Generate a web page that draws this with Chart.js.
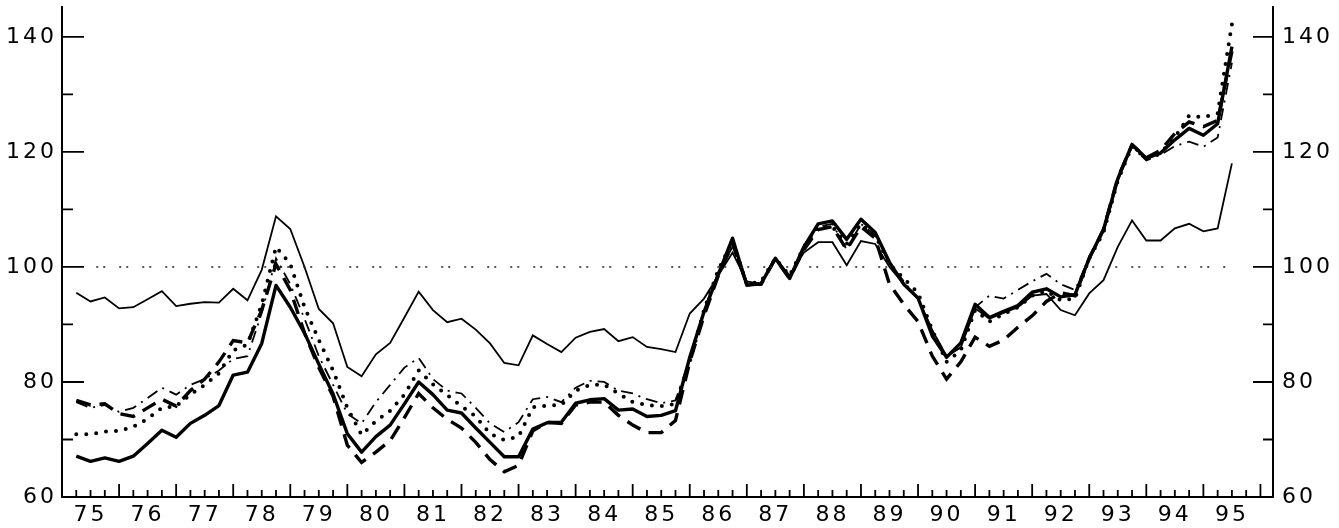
<!DOCTYPE html>
<html>
<head>
<meta charset="utf-8">
<script src="https://cdn.jsdelivr.net/npm/chart.js@4.4.0/dist/chart.umd.min.js"></script>
<style>
  html, body { margin: 0; padding: 0; background: #fff; }
  #wrap { width: 1339px; height: 528px; position: relative; }
</style>
</head>
<body>
<div id="wrap"><canvas id="indexChart"></canvas></div>
<script>
// years on the axis, data are quarterly (plotted at end of quarter)
const years = [1975, 1976, 1977, 1978, 1979, 1980, 1981, 1982, 1983, 1984, 1985,
  1986, 1987, 1988, 1989, 1990, 1991, 1992, 1993, 1994, 1995];
const quarterEnds = [0.25, 0.5, 0.75, 1];
const nPoints = 82; // 1975 Q1 .. 1995 Q2

const thinSolid = [95.5, 94.0, 94.7, 92.8, 93.0, 94.4, 95.8, 93.2, 93.6, 93.9, 93.8, 96.2, 94.2, 99.5, 108.8, 106.6,
  100.0, 92.7, 90.2, 82.6, 81.0, 84.8, 86.8, 91.2, 95.7, 92.5, 90.4, 91.0, 89.1, 86.7, 83.3, 82.9,
  88.1, 86.6, 85.2, 87.7, 88.7, 89.2, 87.1, 87.8, 86.1, 85.7, 85.2, 91.9, 94.5, 98.5, 102.5, 97.5,
  97.0, 101.5, 98.5, 102.5, 104.3, 104.3, 100.3, 104.5, 104.0, 100.0, 97.0, 94.5, 89.0, 84.5, 86.0, 92.8,
  91.0, 92.0, 93.0, 95.0, 95.3, 92.5, 91.6, 95.4, 97.7, 103.5, 108.1, 104.6, 104.6, 106.7, 107.5, 106.2,
  106.7, 118.0];

const thickSolid = [67.1, 66.2, 66.8, 66.2, 67.1, 69.3, 71.6, 70.4, 72.8, 74.2, 75.9, 81.2, 81.7, 86.7, 96.8, 93.0,
  88.5, 83.1, 77.9, 71.0, 67.8, 70.5, 72.5, 76.2, 80.0, 77.8, 75.1, 74.6, 72.0, 69.5, 67.0, 67.0,
  71.8, 72.9, 73.0, 76.3, 76.9, 77.1, 75.1, 75.3, 74.0, 74.2, 75.0, 84.3, 92.2, 98.7, 105.0, 96.8,
  97.1, 101.5, 98.0, 103.5, 107.5, 108.0, 104.8, 108.3, 106.0, 100.8, 97.0, 94.6, 88.0, 84.3, 86.8, 93.5,
  91.2, 92.3, 93.3, 95.6, 96.2, 94.8, 95.2, 101.5, 106.5, 115.3, 121.3, 118.9, 119.8, 122.1, 124.1, 122.9,
  124.9, 138.3];

const dotted = [70.9, 70.9, 71.4, 71.5, 72.2, 73.6, 75.5, 75.8, 77.8, 79.5, 81.5, 85.5, 86.5, 93.5, 103.5, 100.5,
  93.0, 87.3, 82.0, 75.5, 70.8, 73.2, 75.0, 77.8, 82.0, 79.6, 77.7, 75.8, 74.0, 71.0, 69.9, 70.5,
  75.6, 75.9, 76.0, 78.5, 79.5, 79.5, 78.0, 76.5, 76.0, 75.8, 76.2, 83.5, 92.5, 99.5, 104.5, 97.0,
  97.5, 101.5, 98.5, 103.5, 107.0, 107.0, 104.0, 107.5, 105.5, 100.5, 98.0, 95.5, 89.0, 83.5, 85.5, 92.5,
  90.5, 91.8, 93.0, 95.0, 95.8, 94.2, 94.5, 101.5, 106.0, 115.0, 121.0, 118.8, 119.8, 122.5, 126.3, 126.0,
  126.7, 142.2];

const dashed = [76.8, 76.0, 76.2, 74.5, 74.0, 75.5, 77.0, 75.8, 78.5, 80.5, 83.5, 87.2, 86.8, 92.5, 100.5, 96.0,
  88.5, 82.5, 77.5, 69.0, 66.0, 67.8, 69.8, 73.8, 78.0, 75.5, 73.5, 72.0, 69.5, 66.5, 64.4, 65.5,
  71.5, 73.0, 72.8, 76.0, 76.5, 76.5, 74.2, 72.5, 71.2, 71.2, 73.3, 83.5, 91.5, 98.5, 104.0, 97.0,
  97.0, 101.5, 98.0, 103.0, 106.5, 107.0, 103.0, 107.0, 105.0, 97.0, 93.5, 90.5, 84.5, 80.5, 83.5, 87.8,
  86.2, 87.3, 89.5, 91.5, 94.0, 95.5, 95.0, 101.5, 106.5, 115.5, 121.2, 119.0, 120.3, 123.2, 125.2, 124.4,
  125.5, 137.5];

const dashDot = [76.5, 75.5, 76.0, 74.8, 75.5, 77.2, 79.0, 77.8, 79.5, 80.5, 82.0, 84.0, 84.5, 92.0, 101.5, 97.0,
  91.0, 84.5, 79.5, 74.5, 72.8, 76.5, 79.5, 82.5, 84.2, 80.5, 78.5, 78.0, 75.5, 72.8, 71.3, 73.0,
  77.0, 77.4, 76.5, 79.0, 80.2, 80.0, 78.5, 78.0, 77.0, 76.3, 76.8, 84.0, 92.5, 99.0, 103.5, 97.0,
  97.0, 101.5, 98.3, 103.5, 107.0, 107.5, 103.0, 107.5, 105.5, 100.5, 97.5, 94.5, 89.0, 84.5, 86.0, 93.0,
  95.0, 94.5, 96.0, 97.5, 98.8, 97.0, 96.0, 101.5, 106.0, 115.0, 121.0, 118.5, 119.5, 121.0, 121.8, 120.9,
  122.5, 135.5];

const refLevel = 100;
const refSpan = [1975.6, 1995.4];
const yTickValues = [60, 70, 80, 90, 100, 110, 120, 130, 140];
const yLabelValues = [60, 80, 100, 120, 140];
const yMin = 60, yMax = 145.2;
const xMin = 1975, xMax = 1996.22;

const quarterTimes = years.flatMap(y => quarterEnds.map(f => y + f));
const xs = quarterTimes.slice(0, nPoints);
const toPoints = vals => vals.map((v, i) => ({ x: xs[i], y: v }));

// tick marks point inward, like the printed original
const innerTicks = {
  id: 'innerTicks',
  beforeDraw(chart) {
    chart.ctx.letterSpacing = '3px';
  },
  afterDraw(chart) {
    const { ctx, chartArea: a, scales: { x, y } } = chart;
    ctx.save();
    ctx.strokeStyle = '#000';
    ctx.lineWidth = 1.8;
    ctx.beginPath();
    quarterTimes.forEach(v => {
      const px = x.getPixelForValue(v);
      const len = Number.isInteger(v) ? 13 : 7;
      ctx.moveTo(px, a.bottom);
      ctx.lineTo(px, a.bottom - len);
    });
    yTickValues.forEach(v => {
      if (v === yMin) return;
      const py = y.getPixelForValue(v);
      const major = v % 20 === 0;
      ctx.moveTo(a.left, py);
      ctx.lineTo(a.left + (major ? 22 : 11), py);
      ctx.moveTo(a.right, py);
      ctx.lineTo(a.right - (major ? 20 : 10), py);
    });
    ctx.stroke();
    ctx.restore();
  }
};

// no extra room for half-labels: the frame sits where the original has it
const noPad = s => { s.paddingTop = 0; s.paddingBottom = 0; s.paddingLeft = 0; s.paddingRight = 0; };

const lineBase = { pointRadius: 0, tension: 0, borderColor: '#000', fill: false };
const tickFont = { family: 'DejaVu Sans', size: 22 };

new Chart(document.getElementById('indexChart'), {
  type: 'line',
  data: {
    datasets: [
      { ...lineBase, label: 'ref', data: refSpan.map(x => ({ x, y: refLevel })),
        borderWidth: 1.6, borderColor: '#222', borderDash: [2, 5, 2, 14] },
      { ...lineBase, label: 'thin', data: toPoints(thinSolid), borderWidth: 1.8 },
      { ...lineBase, label: 'dashdot', data: toPoints(dashDot), borderWidth: 1.8,
        borderDash: [12, 6, 2, 6] },
      { ...lineBase, label: 'dashed', data: toPoints(dashed), borderWidth: 3.4,
        borderDash: [15, 9] },
      { ...lineBase, label: 'dotted', data: toPoints(dotted), borderWidth: 4,
        borderDash: [0, 10], borderCapStyle: 'round' },
      { ...lineBase, label: 'thick', data: toPoints(thickSolid), borderWidth: 3.4,
        borderJoinStyle: 'round' }
    ]
  },
  options: {
    responsive: true,
    maintainAspectRatio: false,
    animation: false,
    layout: { padding: { top: 7, left: 0, right: 0, bottom: 0 } },
    plugins: { legend: { display: false }, tooltip: { enabled: false } },
    scales: {
      x: {
        type: 'linear', min: xMin, max: xMax, offset: false,
        grid: { display: false, drawTicks: false },
        border: { display: true, color: '#000', width: 2 },
        afterBuildTicks: s => { s.ticks = years.map(y => ({ value: y + 0.5 })); },
        afterFit: s => { s.height = 31; noPad(s); },
        ticks: { autoSkip: false, maxRotation: 0, padding: 5, color: '#000', font: tickFont,
          callback: v => String(Math.floor(v)).slice(2) }
      },
      y: {
        position: 'left', min: yMin, max: yMax,
        grid: { display: false, drawTicks: false },
        border: { display: true, color: '#000', width: 2 },
        afterBuildTicks: s => { s.ticks = yLabelValues.map(v => ({ value: v })); },
        afterFit: s => { s.width = 62; noPad(s); },
        ticks: { padding: 5, color: '#000', font: tickFont }
      },
      y2: {
        position: 'right', min: yMin, max: yMax,
        grid: { display: false, drawTicks: false },
        border: { display: true, color: '#000', width: 2 },
        afterBuildTicks: s => { s.ticks = yLabelValues.map(v => ({ value: v })); },
        afterFit: s => { s.width = 66; noPad(s); },
        ticks: { padding: 9, color: '#000', font: tickFont }
      }
    }
  },
  plugins: [innerTicks]
});
</script>
</body>
</html>
